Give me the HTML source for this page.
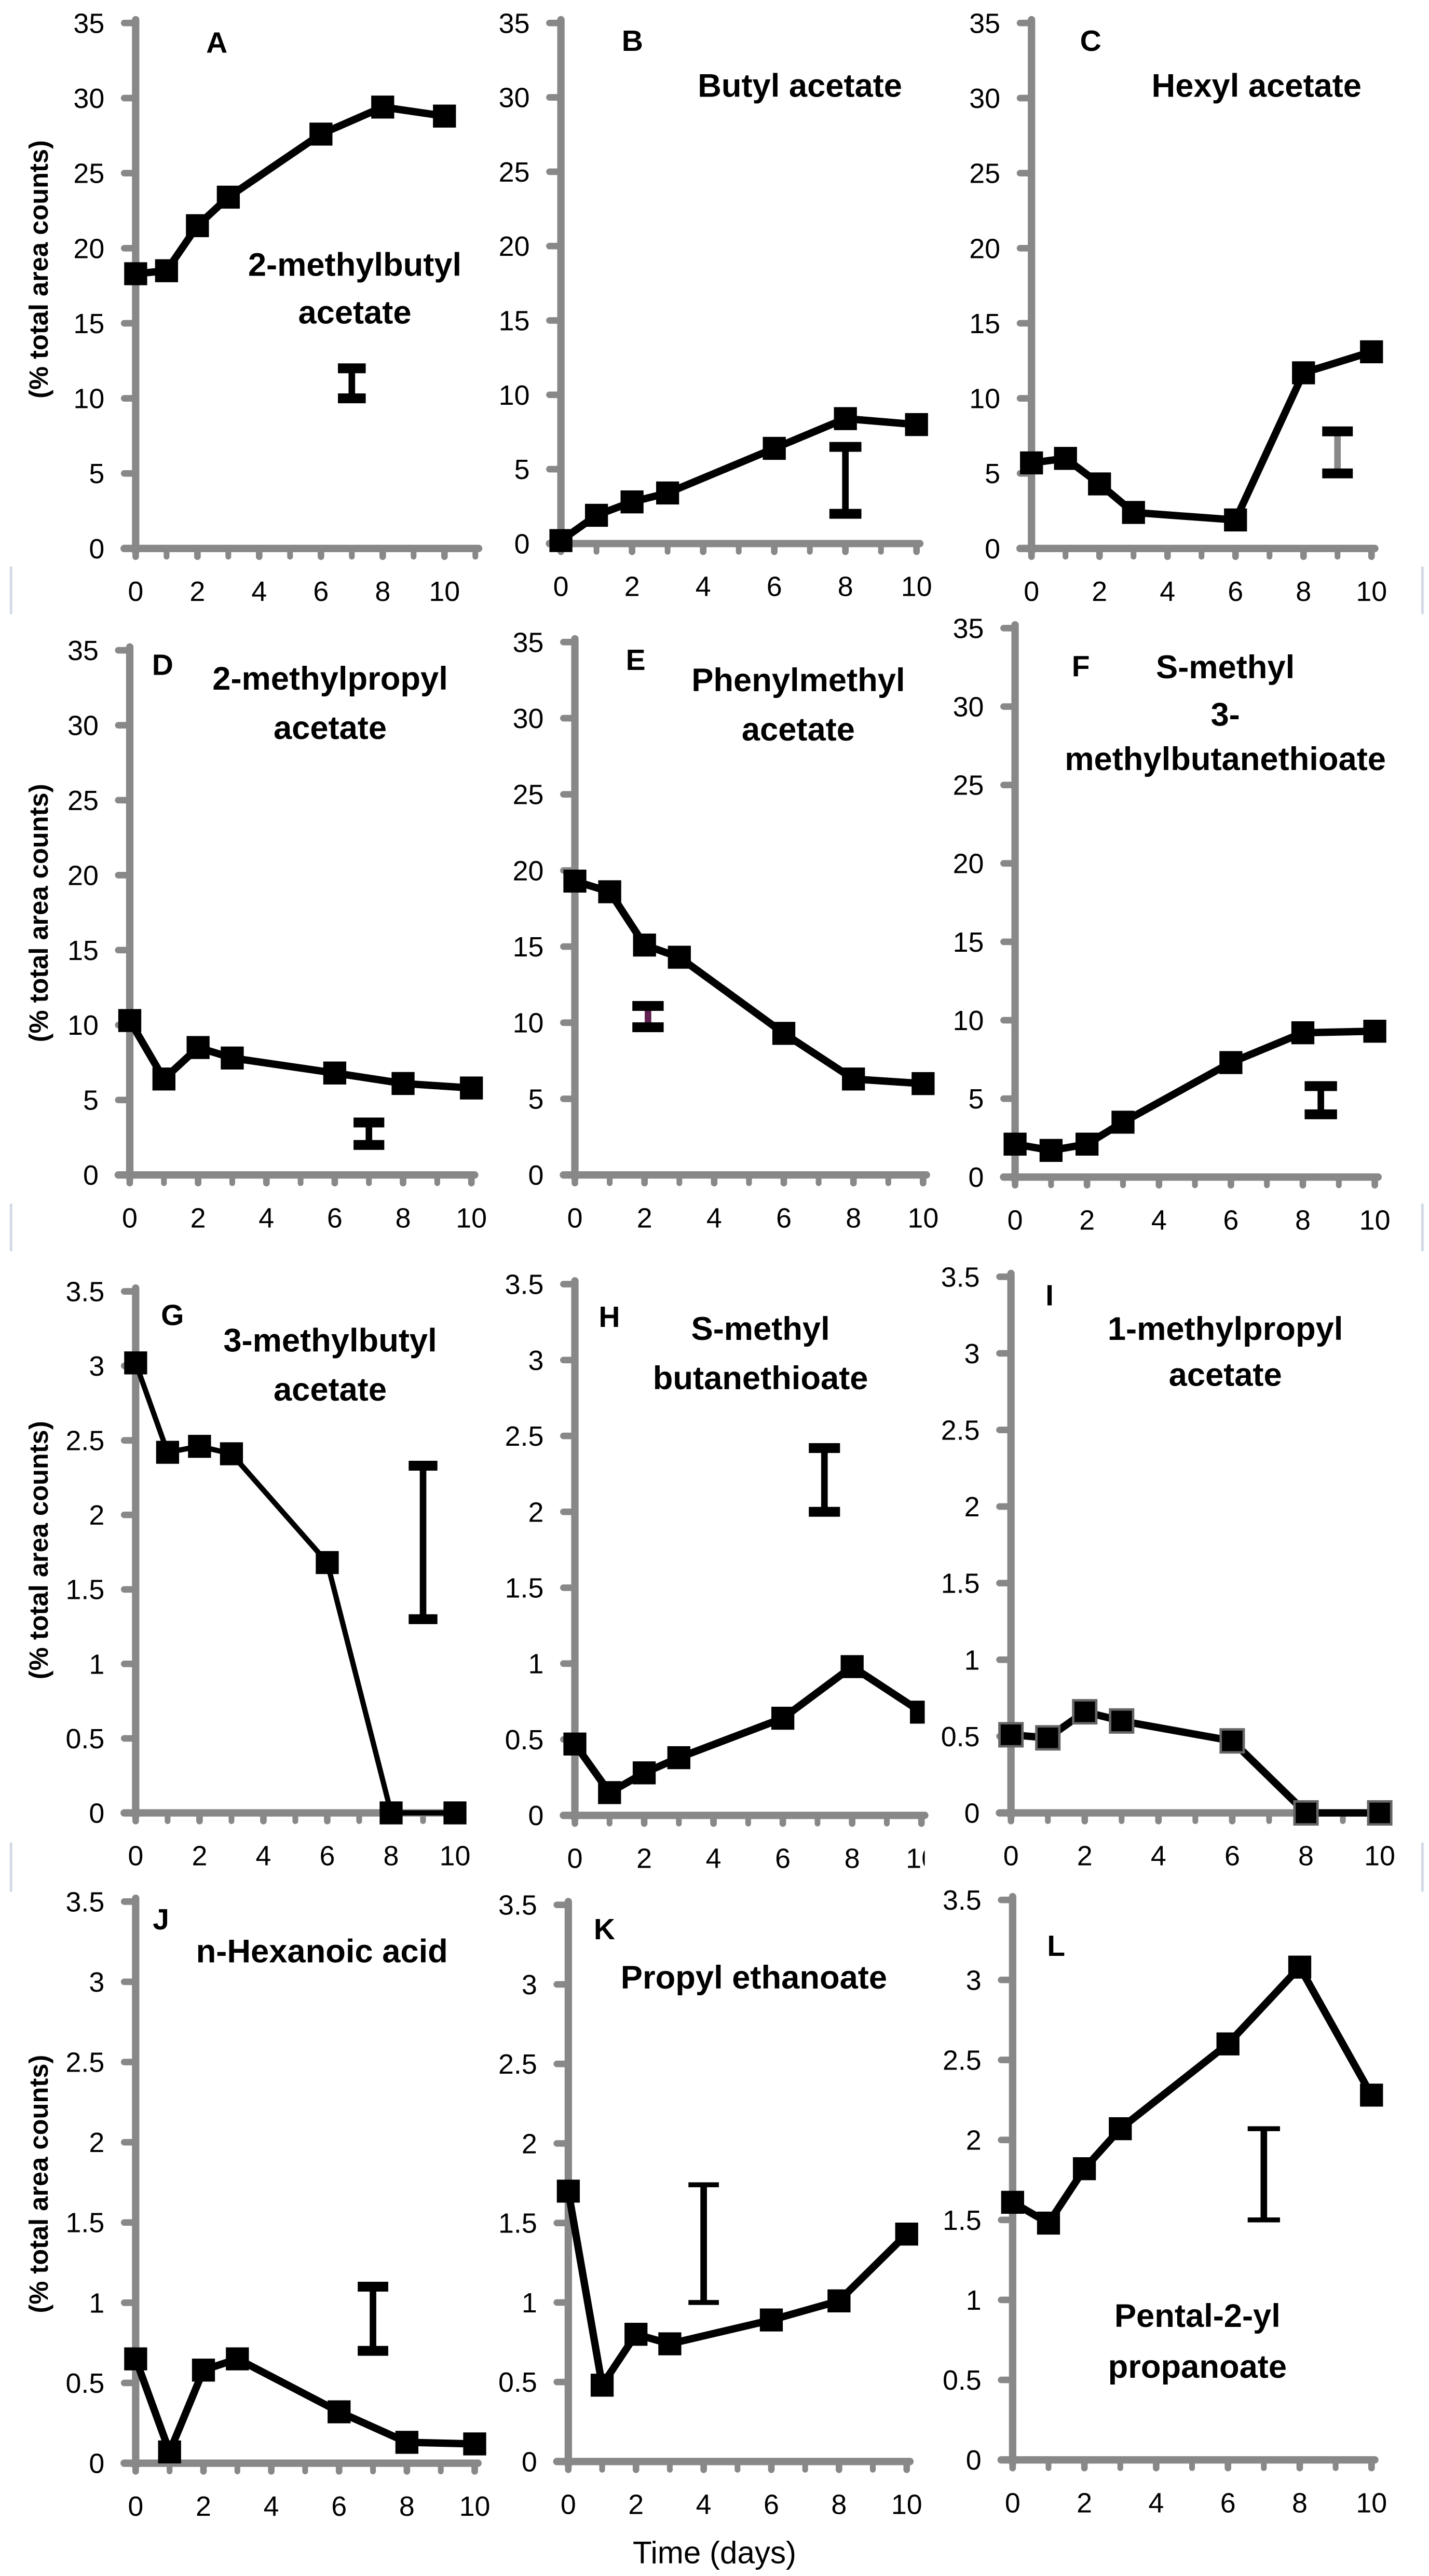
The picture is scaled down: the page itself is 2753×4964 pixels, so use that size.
<!DOCTYPE html>
<html><head><meta charset="utf-8"><style>
html,body{margin:0;padding:0;background:#fff}
svg{display:block}
text{font-family:"Liberation Sans",sans-serif}
</style></head><body>
<svg id="fig" xmlns="http://www.w3.org/2000/svg" width="2753" height="4964" viewBox="0 0 870 1568.7">
<rect x="0" y="0" width="870" height="1568.7" fill="#fff"/>
</svg>
<script>
const days = [0, 1, 2, 3, 6, 8, 10];
const aVals = [18.3, 18.5, 21.5, 23.4, 27.6, 29.4, 28.8];
const bVals = [0.2, 1.9, 2.8, 3.4, 6.4, 8.4, 8.0];
const cVals = [5.7, 6.0, 4.3, 2.4, 1.9, 11.7, 13.1];
const dVals = [10.3, 6.4, 8.5, 7.8, 6.8, 6.1, 5.8];
const eVals = [19.3, 18.6, 15.1, 14.3, 9.3, 6.3, 6.0];
const fVals = [2.1, 1.7, 2.1, 3.5, 7.3, 9.2, 9.3];
const gVals = [3.02, 2.42, 2.46, 2.41, 1.68, 0, 0];
const hVals = [0.47, 0.15, 0.28, 0.38, 0.64, 0.98, 0.68];
const iVals = [0.51, 0.49, 0.66, 0.6, 0.47, 0, 0];
const jVals = [0.65, 0.07, 0.58, 0.65, 0.32, 0.13, 0.12];
const kVals = [1.7, 0.48, 0.8, 0.74, 0.89, 1.01, 1.43];
const lVals = [1.61, 1.48, 1.82, 2.07, 2.6, 3.08, 2.28];
// error bars: [day, low, high]
const aErr = [7, 10, 12];
const bErr = [8, 2, 6.5];
const cErr = [9, 5, 7.8];
const dErr = [7, 2, 3.5];
const eErr = [2.1, 9.7, 11.1];
const fErr = [8.5, 4, 5.8];
const gErr = [9, 1.3, 2.33];
const hErr = [7.2, 2.0, 2.42];
const jErr = [7, 0.7, 1.1];
const kErr = [4, 1.0, 1.74];
const lErr = [7, 1.5, 2.07];
const bigTicks = [0, 5, 10, 15, 20, 25, 30, 35];
const smallTicks = [0, 0.5, 1, 1.5, 2, 2.5, 3, 3.5];
const smallTickLabels = ["0", "0.5", "1", "1.5", "2", "2.5", "3", "3.5"];
const xTickLabels = [0, 2, 4, 6, 8, 10];

const NS = "http://www.w3.org/2000/svg";
const svg = document.getElementById('fig');
function mk(tag, attrs, parent) {
  const e = document.createElementNS(NS, tag);
  for (const k in attrs) e.setAttribute(k, attrs[k]);
  (parent || svg).appendChild(e);
  return e;
}

// layout only (pixel positions)
const panels = [
  {id:'a', vals:aVals, err:aErr, x0:82.6, x10:270.6, xEnd:11, yTop:14, yBot:334, big:true, letter:'A', lx:132, ly:32, names:[['2-methylbutyl',216,168],['acetate',216,197]]},
  {id:'b', vals:bVals, err:bErr, x0:341.5, x10:558, xEnd:10, yTop:14, yBot:331, big:true, letter:'B', lx:385, ly:31, names:[['Butyl  acetate',487,59]]},
  {id:'c', vals:cVals, err:cErr, x0:628, x10:835, xEnd:10, yTop:14, yBot:334, big:true, letter:'C', lx:664, ly:31, errColor:'#888', names:[['Hexyl  acetate',765,59]]},
  {id:'d', vals:dVals, err:dErr, x0:79, x10:287, xEnd:10, yTop:396, yBot:715.5, big:true, letter:'D', lx:99, ly:411, names:[['2-methylpropyl',201,420],['acetate',201,450]]},
  {id:'e', vals:eVals, err:eErr, x0:350, x10:562, xEnd:10, yTop:391, yBot:715.5, big:true, letter:'E', lx:387, ly:408, names:[['Phenylmethyl',486,421],['acetate',486,451]]},
  {id:'f', vals:fVals, err:fErr, x0:618, x10:837, xEnd:10, yTop:382.5, yBot:716.8, big:true, letter:'F', lx:658, ly:412, names:[['S-methyl',746,413],['3-',746,442],['methylbutanethioate',746,469]]},
  {id:'g', vals:gVals, err:gErr, x0:82.6, x10:277, xEnd:10, yTop:786.4, yBot:1104, big:false, letter:'G', lx:105, ly:807, thin:true, names:[['3-methylbutyl',201,823],['acetate',201,853]]},
  {id:'h', vals:hVals, err:hErr, x0:350, x10:561, xEnd:10, yTop:782, yBot:1105.5, big:false, letter:'H', lx:371, ly:808, clip:563, names:[['S-methyl',463,816],['butanethioate',463,846]]},
  {id:'i', vals:iVals, err:null, x0:615.5, x10:840, xEnd:10, yTop:777.5, yBot:1104, big:false, letter:'I', lx:639, ly:795, grayMarker:true, names:[['1-methylpropyl',746,816],['acetate',746,844]]},
  {id:'j', vals:jVals, err:jErr, x0:82.6, x10:289, xEnd:10, yTop:1158, yBot:1500, big:false, letter:'J', lx:98, ly:1175, names:[['n-Hexanoic acid',196,1195]]},
  {id:'k', vals:kVals, err:kErr, x0:346, x10:552, xEnd:10, yTop:1160, yBot:1499, big:false, letter:'K', lx:368, ly:1181, thinErr:true, names:[['Propyl  ethanoate',459,1211]]},
  {id:'l', vals:lVals, err:lErr, x0:616.5, x10:835, xEnd:10, yTop:1157, yBot:1498, big:false, letter:'L', lx:643, ly:1191, thinErr:true, names:[['Pental-2-yl',729,1417],['propanoate',729,1448]]}
];

const rowLabelY = [164, 556, 944, 1330];
panels.forEach((p, idx) => {
  const g = mk('g', {});
  
  
  const ymax = p.big ? 35 : 3.5;
  const xs = d => p.x0 + (p.x10 - p.x0) * d / 10;
  const ys = v => p.yBot - (p.yBot - p.yTop) * v / ymax;
  const unit = (p.x10 - p.x0) / 10;
  if (p.clip) {
    const cp = mk('clipPath', {id: 'clip-' + p.id}, g);
    mk('rect', {x: 0, y: 0, width: p.clip, height: 1568}, cp);
  }
  const ya = mk('line', {x1: p.x0, y1: p.yTop - 2, x2: p.x0, y2: p.yBot + 2, stroke: '#888', 'stroke-width': 4.5, 'stroke-linecap': 'round'}, g);
  
  
  const ticks = p.big ? bigTicks : smallTicks;
  ticks.forEach((t, i) => {
    mk('line', {x1: p.x0 - 7, y1: ys(t), x2: p.x0, y2: ys(t), stroke: '#888', 'stroke-width': 4, 'stroke-linecap': 'round'}, g);
    const tl = mk('text', {x: p.x0 - 19, y: ys(t) + 6, 'text-anchor': 'end', 'font-size': 17, fill: '#000'}, g);
    tl.textContent = p.big ? String(t) : smallTickLabels[i];
    
    
  });
  const xa = mk('line', {x1: p.x0 - 7, y1: p.yBot, x2: xs(p.xEnd) + 2, y2: p.yBot, stroke: '#888', 'stroke-width': 4.5, 'stroke-linecap': 'round'}, g);
  
  
  for (let d = 0; d <= p.xEnd; d++) {
    mk('line', {x1: xs(d), y1: p.yBot, x2: xs(d), y2: p.yBot + 5, stroke: '#888', 'stroke-width': d % 2 === 0 ? 4 : 3.5, 'stroke-linecap': 'round'}, g);
  }
  const lblGroup = mk('g', p.clip ? {'clip-path': 'url(#clip-' + p.id + ')'} : {}, g);
  xTickLabels.forEach(t => {
    const tl = mk('text', {x: xs(t), y: p.yBot + 32, 'text-anchor': 'middle', 'font-size': 17, fill: '#000'}, lblGroup);
    tl.textContent = String(t);
    
    
  });
  const L = mk('text', {x: p.lx, y: p.ly, 'text-anchor': 'middle', 'font-size': 18, 'font-weight': 'bold', fill: '#000'}, g);
  L.textContent = p.letter;
  
  
  p.names.forEach(n => {
    const t = mk('text', {x: n[1], y: n[2], 'text-anchor': 'middle', 'font-size': 20, 'font-weight': 'bold', fill: '#000'}, g);
    t.textContent = n[0];
    
    
  });
  if (p.err) {
    const eg = mk('g', {}, g);
    
    
    const ex = xs(p.err[0]);
    const col = p.errColor || '#000';
    const cw = unit * 0.45;
    const ch = p.thinErr ? 3 : 6;
    mk('line', {x1: ex, y1: ys(p.err[1]), x2: ex, y2: ys(p.err[2]), stroke: p.id === 'e' ? '#602050' : col, 'stroke-width': 4}, eg);
    mk('rect', {x: ex - cw, y: ys(p.err[2]) - ch / 2, width: cw * 2, height: ch, fill: '#000'}, eg);
    mk('rect', {x: ex - cw, y: ys(p.err[1]) - ch / 2, width: cw * 2, height: ch, fill: '#000'}, eg);
  }
  const sg = mk('g', p.clip ? {'clip-path': 'url(#clip-' + p.id + ')'} : {}, g);
  const pts = days.map((d, i) => xs(d) + ',' + ys(p.vals[i])).join(' ');
  const line = mk('polyline', {points: pts, fill: 'none', stroke: '#000', 'stroke-width': p.thin ? 3.2 : 4.5, 'stroke-linejoin': 'round'}, sg);
  
  
  days.forEach((d, i) => {
    const m = mk('rect', {x: xs(d) - 7, y: ys(p.vals[i]) - 7, width: 14, height: 14, fill: '#000', stroke: p.grayMarker ? '#666' : 'none', 'stroke-width': p.grayMarker ? 1.5 : 0}, sg);
    
    
  });
  if (idx % 3 === 0) {
    const cy = rowLabelY[idx / 3];
    const yt = mk('text', {x: 0, y: 0, 'text-anchor': 'middle', 'font-size': 16, 'font-weight': 'bold', fill: '#000', transform: 'translate(29,' + cy + ') rotate(-90)'}, g);
    yt.textContent = '(% total area counts)';
    
    
  }
});
[[345, 374], [733, 762], [1122, 1152]].forEach(r => {
  mk('line', {x1: 6.7, y1: r[0], x2: 6.7, y2: r[1], stroke: '#d0d8e4', 'stroke-width': 1.5});
  mk('line', {x1: 866, y1: r[0], x2: 866, y2: r[1], stroke: '#d0d8e4', 'stroke-width': 1.5});
});
const xt = mk('text', {x: 435, y: 1561, 'text-anchor': 'middle', 'font-size': 19, fill: '#000'});
xt.textContent = 'Time (days)';


</script>
</body></html>
